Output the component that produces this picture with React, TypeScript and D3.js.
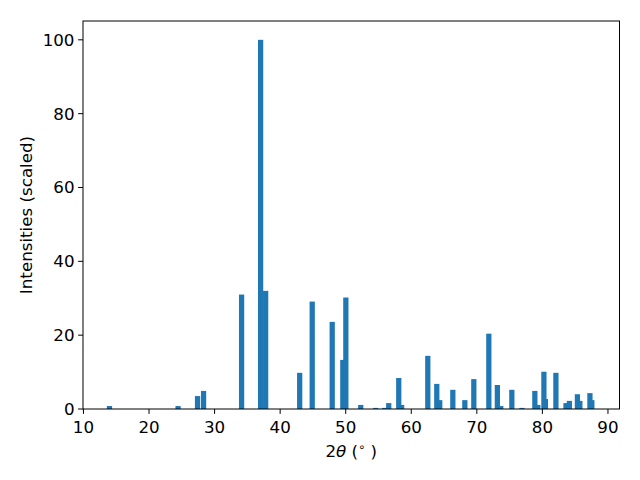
import React from "react";
import * as d3 from "d3";

const positions = [
  13.97, 24.43, 27.4, 28.32, 34.12, 37.02, 37.79, 42.98, 44.89, 47.94, 49.56, 50.02,
  52.29, 54.58, 55.95, 56.56, 58.09, 58.53, 62.52, 63.89, 64.34, 66.34, 68.17, 69.54,
  71.83, 73.13, 73.65, 75.34, 76.87, 78.85, 79.3, 80.23, 80.46, 82.06, 83.6, 84.12,
  85.34, 85.71, 87.25, 87.54,
];
const intensities = [
  0.8, 0.8, 3.5, 4.9, 31.0, 100, 32.0, 9.8, 29.1, 23.6, 13.3, 30.2,
  1.1, 0.3, 0.3, 1.6, 8.4, 1.1, 14.4, 6.8, 2.4, 5.2, 2.4, 8.1,
  20.4, 6.5, 0.8, 5.2, 0.3, 4.9, 1.1, 10.1, 2.7, 9.8, 1.6, 2.2,
  4.0, 2.2, 4.3, 2.4,
];
const xTicks = [10, 20, 30, 40, 50, 60, 70, 80, 90];
const yTicks = [0, 20, 40, 60, 80, 100];

const W = 640, H = 480;
const L = 83, R = 619.5, T = 21, B = 409;
const FONT = "DejaVu Sans, sans-serif";

export default function App() {
  const x = d3.scaleLinear().domain([9.93, 91.76]).range([L, R]);
  const y = d3.scaleLinear().domain([0, 105.1]).range([B, T]);
  const bw = 0.8;
  return (
    <svg width={W} height={H} style={{ position: "absolute", left: 0, top: 0, background: "#fff" }} fontFamily={FONT}>
      <rect x={0} y={0} width={W} height={H} fill="#fff" />
      {positions.map((p, i) => (
        <rect key={i} x={x(p - bw / 2)} y={y(intensities[i])} width={x(p + bw / 2) - x(p - bw / 2)} height={B - y(intensities[i])} fill="#1f77b4" />
      ))}
      <rect x={L} y={T} width={R - L} height={B - T} fill="none" stroke="#000" strokeWidth={1} />
      {xTicks.map((t) => (
        <g key={t}>
          <line x1={x(t)} x2={x(t)} y1={B} y2={B + 4.9} stroke="#000" strokeWidth={1} />
          <text x={x(t)} y={B + 24} textAnchor="middle" fontSize={16.7} fill="#000">{t}</text>
        </g>
      ))}
      {yTicks.map((t) => (
        <g key={t}>
          <line x1={L - 4.9} x2={L} y1={y(t)} y2={y(t)} stroke="#000" strokeWidth={1} />
          <text x={L - 8.5} y={y(t) + 6} textAnchor="end" fontSize={16.7} fill="#000">{t}</text>
        </g>
      ))}
      <text x={(L + R) / 2} y={457} textAnchor="middle" fontSize={16.7} fill="#000">
        2<tspan fontStyle="italic">θ</tspan> (<tspan dy={-6} fontSize={11.5}>∘</tspan><tspan dy={6}> )</tspan>
      </text>
      <text transform={`translate(32, ${(T + B) / 2}) rotate(-90)`} textAnchor="middle" fontSize={16.7} fill="#000">
        Intensities (scaled)
      </text>
    </svg>
  );
}
